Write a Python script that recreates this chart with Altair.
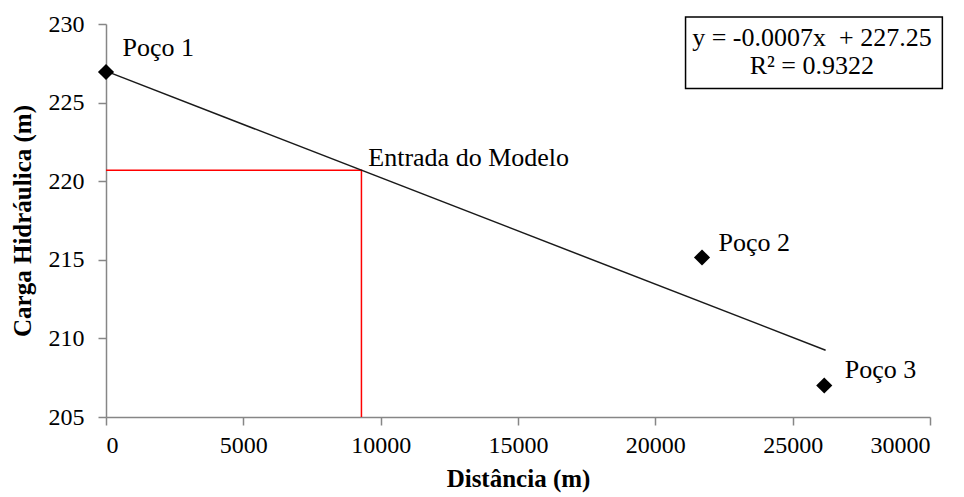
import altair as alt
import pandas as pd

# Observed wells
well_names = ["Poço 1", "Poço 2", "Poço 3"]
well_x = [0, 21700, 26150]
well_y = [226.95, 215.15, 207.0]

# Label anchor positions (data units)
label_x = [600, 22300, 26900]
label_y = [228.5, 216.1, 208.0]

# Linear trend line (as drawn)
trend_x = [0, 26200]
trend_y = [227.0, 209.25]

# Red guide lines to the model entry point
guide_x = [0, 9300, 9300]
guide_y = [220.7, 220.7, 205]
guide_order = [0, 1, 2]

entry_text = ["Entrada do Modelo"]
entry_x = [9550]
entry_y = [221.5]

# Equation box
eq_lines = ["y = -0.0007x\u00a0\u00a0+ 227.25", "R² = 0.9322"]
eq_x = [25700, 25700]
eq_y = [229.1, 227.3]
box_x = [21100]
box_x2 = [30450]
box_y = [230.45]
box_y2 = [225.9]

FONT = "Times New Roman, Liberation Serif, serif"

xscale = alt.Scale(domain=[0, 30000], nice=False)
yscale = alt.Scale(domain=[205, 230], nice=False)

xax = alt.Axis(title="Distância (m)", values=[0, 5000, 10000, 15000, 20000, 25000, 30000],
               grid=False, format="d")
yax = alt.Axis(title="Carga Hidráulica (m)", values=[205, 210, 215, 220, 225, 230],
               grid=False, format="d")

wells = pd.DataFrame({"name": well_names, "x": well_x, "y": well_y, "lx": label_x, "ly": label_y})
trend = pd.DataFrame({"x": trend_x, "y": trend_y})
guide = pd.DataFrame({"x": guide_x, "y": guide_y, "o": guide_order})
entry = pd.DataFrame({"t": entry_text, "x": entry_x, "y": entry_y})
eq = pd.DataFrame({"t": eq_lines, "x": eq_x, "y": eq_y})
box = pd.DataFrame({"x": box_x, "x2": box_x2, "y": box_y, "y2": box_y2})

guide_line = alt.Chart(guide).mark_line(color="#ff0000", strokeWidth=1.5).encode(
    x=alt.X("x:Q", scale=xscale, axis=xax),
    y=alt.Y("y:Q", scale=yscale, axis=yax),
    order="o:Q",
)

trend_line = alt.Chart(trend).mark_line(color="#1a1a1a", strokeWidth=1.5).encode(
    x=alt.X("x:Q", scale=xscale),
    y=alt.Y("y:Q", scale=yscale),
)

points = alt.Chart(wells).mark_point(shape="diamond", filled=True, color="black", size=260, opacity=1).encode(
    x=alt.X("x:Q", scale=xscale),
    y=alt.Y("y:Q", scale=yscale),
)

well_labels = alt.Chart(wells).mark_text(font=FONT, fontSize=26, align="left", baseline="middle", color="black").encode(
    x=alt.X("lx:Q", scale=xscale),
    y=alt.Y("ly:Q", scale=yscale),
    text="name:N",
)

entry_label = alt.Chart(entry).mark_text(font=FONT, fontSize=26, align="left", baseline="middle", color="black").encode(
    x=alt.X("x:Q", scale=xscale),
    y=alt.Y("y:Q", scale=yscale),
    text="t:N",
)

eq_box = alt.Chart(box).mark_rect(fill="white", stroke="black", strokeWidth=1.5).encode(
    x=alt.X("x:Q", scale=xscale),
    x2="x2:Q",
    y=alt.Y("y:Q", scale=yscale),
    y2="y2:Q",
)

eq_text = alt.Chart(eq).mark_text(font=FONT, fontSize=26, align="center", baseline="middle", color="black").encode(
    x=alt.X("x:Q", scale=xscale),
    y=alt.Y("y:Q", scale=yscale),
    text="t:N",
)

chart = alt.layer(guide_line, trend_line, points, well_labels, entry_label, eq_box, eq_text).properties(
    width=824,
    height=393,
    autosize=alt.AutoSizeParams(type="none"),
    padding={"left": 98, "top": 16, "right": 24, "bottom": 80},
    background="white",
).configure_view(stroke=None).configure_axis(
    domainColor="#868686",
    tickColor="#868686",
    domainWidth=1.5,
    tickWidth=1.5,
    tickSize=8,
    labelFont=FONT,
    labelFontSize=24,
    labelColor="black",
    titleFont=FONT,
    titleFontSize=25,
    titleFontWeight="bold",
    titleColor="black",
).configure_axisX(
    labelPadding=8,
    titlePadding=9,
).configure_axisY(
    labelPadding=14,
    titlePadding=13,
)

chart.save("out.html", embed_options={"renderer": "svg", "actions": False})
